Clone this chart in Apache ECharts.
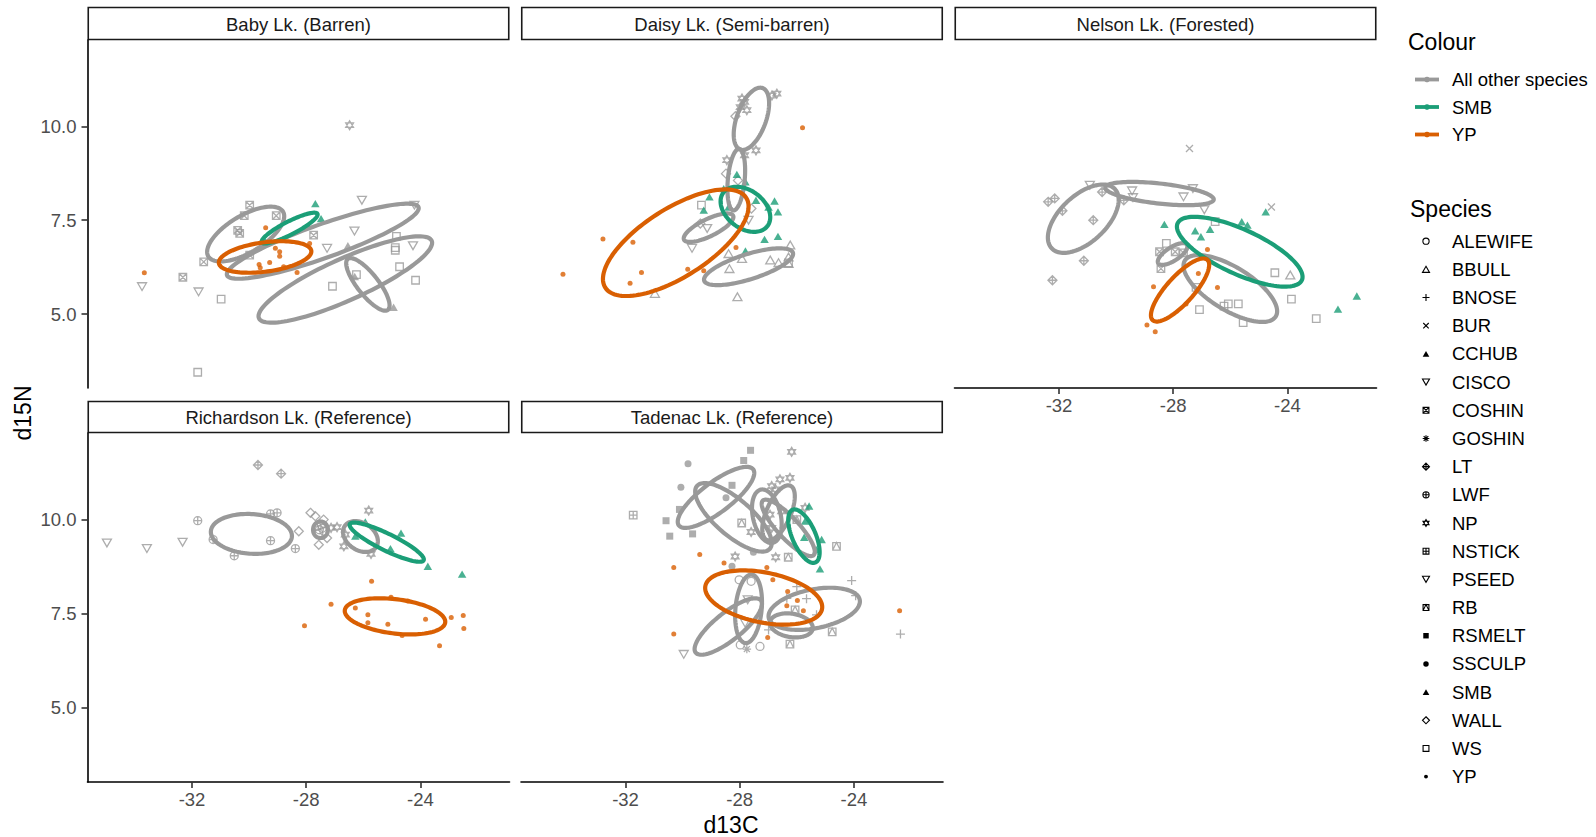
<!DOCTYPE html>
<html>
<head>
<meta charset="utf-8">
<script src="https://cdn.jsdelivr.net/npm/echarts@6/dist/echarts.min.js"></script>
<style>
  html, body { margin: 0; padding: 0; background: #fff; }
  #chart { width: 1596px; height: 837px; }
</style>
</head>
<body>
<div id="chart"></div>
<script>
// ---- data ---------------------------------------------------------------
const lakes = ['Baby Lk. (Barren)', 'Daisy Lk. (Semi-barren)', 'Nelson Lk. (Forested)',
               'Richardson Lk. (Reference)', 'Tadenac Lk. (Reference)'];
const colourGroups = ['All other species', 'SMB', 'YP'];
const speciesList = ['ALEWIFE', 'BBULL', 'BNOSE', 'BUR', 'CCHUB', 'CISCO', 'COSHIN', 'GOSHIN',
                     'LT', 'LWF', 'NP', 'NSTICK', 'PSEED', 'RB', 'RSMELT', 'SSCULP', 'SMB',
                     'WALL', 'WS', 'YP'];
const xTicks = [-32, -28, -24];
const yTicks = [5, 7.5, 10];

// fish: [d13C, d15N, species]
const babyPts = [
  [-29.98, 7.90, 'COSHIN'], [-30.17, 7.62, 'COSHIN'], [-29.05, 7.62, 'COSHIN'], [-30.40, 7.23, 'COSHIN'],
  [-30.33, 7.15, 'COSHIN'], [-27.74, 7.10, 'COSHIN'], [-31.59, 6.39, 'COSHIN'], [-32.32, 5.98, 'COSHIN'],
  [-29.98, 6.57, 'COSHIN'],
  [-24.84, 7.07, 'WS'], [-24.88, 6.70, 'WS'], [-24.88, 6.77, 'WS'], [-24.73, 6.26, 'WS'], [-26.24, 6.05, 'WS'],
  [-27.08, 5.74, 'WS'], [-24.17, 5.90, 'WS'], [-30.98, 5.40, 'WS'], [-31.80, 3.45, 'WS'],
  [-26.05, 8.03, 'CISCO'], [-24.21, 7.90, 'CISCO'], [-26.31, 7.21, 'CISCO'], [-27.27, 6.75, 'CISCO'],
  [-24.26, 6.82, 'CISCO'], [-33.75, 5.73, 'CISCO'], [-31.77, 5.59, 'CISCO'],
  [-26.54, 6.82, 'CCHUB'], [-24.94, 5.18, 'CCHUB'], [-26.30, 6.00, 'CCHUB'],
  [-26.48, 10.03, 'NP'],
  [-27.68, 7.94, 'SMB'], [-27.48, 7.54, 'SMB'], [-29.43, 6.92, 'SMB'],
  [-29.42, 7.30, 'YP'], [-33.67, 6.10, 'YP'], [-27.88, 6.88, 'YP'], [-29.08, 6.75, 'YP'], [-28.93, 6.66, 'YP'],
  [-28.93, 6.54, 'YP'], [-29.65, 6.32, 'YP'], [-29.28, 6.37, 'YP'], [-29.61, 6.23, 'YP'], [-28.32, 6.11, 'YP'],
  [-28.79, 6.26, 'YP']
];
const daisyPts = [
  [-27.92, 10.74, 'NP'], [-27.83, 10.65, 'NP'], [-27.75, 10.43, 'NP'], [-26.87, 10.82, 'NP'], [-26.70, 10.87, 'NP'],
  [-27.43, 9.36, 'NP'], [-28.45, 9.10, 'NP'], [-27.83, 9.23, 'NP'], [-27.98, 10.51, 'NP'],
  [-28.15, 10.27, 'WALL'], [-28.48, 8.74, 'WALL'], [-29.38, 7.41, 'WALL'], [-27.59, 7.81, 'WALL'], [-28.06, 8.56, 'WALL'],
  [-28.10, 8.72, 'SMB'], [-27.80, 8.52, 'SMB'], [-29.06, 8.12, 'SMB'], [-28.56, 8.34, 'SMB'], [-27.43, 8.03, 'SMB'],
  [-26.78, 8.01, 'SMB'], [-26.66, 7.72, 'SMB'], [-29.26, 7.77, 'SMB'], [-27.13, 6.99, 'SMB'], [-26.66, 7.07, 'SMB'],
  [-27.80, 6.68, 'SMB'], [-28.39, 7.85, 'SMB'], [-26.99, 7.85, 'SMB'],
  [-26.23, 6.84, 'BBULL'], [-28.39, 6.61, 'BBULL'], [-27.92, 6.48, 'BBULL'], [-26.93, 6.44, 'BBULL'],
  [-26.64, 6.37, 'BBULL'], [-26.29, 6.52, 'BBULL'], [-28.36, 6.21, 'BBULL'], [-30.97, 5.55, 'BBULL'],
  [-28.08, 5.46, 'BBULL'], [-26.29, 6.35, 'BBULL'],
  [-29.67, 6.75, 'PSEED'], [-29.14, 7.28, 'PSEED'], [-27.69, 7.50, 'PSEED'],
  [-29.34, 7.90, 'WS'], [-26.29, 6.36, 'WS'],
  [-25.80, 9.96, 'YP'], [-32.79, 7.00, 'YP'], [-31.74, 6.91, 'YP'], [-34.19, 6.06, 'YP'], [-31.44, 6.11, 'YP'],
  [-31.84, 5.82, 'YP'], [-29.82, 6.19, 'YP'], [-29.26, 6.15, 'YP'], [-28.13, 6.77, 'YP']
];
const nelsonPts = [
  [-27.43, 9.41, 'BUR'], [-24.56, 7.85, 'BUR'],
  [-32.38, 7.99, 'LT'], [-32.15, 8.08, 'LT'], [-31.88, 7.75, 'LT'], [-30.80, 7.50, 'LT'], [-30.49, 8.25, 'LT'],
  [-29.73, 8.03, 'LT'], [-31.13, 6.42, 'LT'], [-32.23, 5.90, 'LT'],
  [-30.92, 8.43, 'CISCO'], [-29.44, 8.28, 'CISCO'], [-29.41, 8.10, 'CISCO'], [-27.31, 8.34, 'CISCO'],
  [-27.64, 8.12, 'CISCO'], [-26.91, 7.78, 'CISCO'],
  [-28.31, 7.39, 'SMB'], [-27.23, 7.22, 'SMB'], [-27.03, 7.06, 'SMB'], [-26.71, 7.26, 'SMB'], [-25.60, 7.46, 'SMB'],
  [-25.40, 7.37, 'SMB'], [-24.76, 7.72, 'SMB'], [-22.23, 5.13, 'SMB'], [-21.57, 5.48, 'SMB'],
  [-28.48, 6.66, 'COSHIN'], [-27.93, 6.66, 'COSHIN'], [-28.43, 6.21, 'COSHIN'], [-27.64, 6.63, 'COSHIN'],
  [-28.24, 6.88, 'WS'], [-26.53, 7.46, 'WS'], [-24.44, 6.10, 'WS'], [-23.86, 5.40, 'WS'], [-22.99, 4.88, 'WS'],
  [-27.08, 5.12, 'WS'], [-26.07, 5.27, 'WS'], [-25.72, 5.27, 'WS'], [-26.22, 5.21, 'WS'], [-25.55, 4.77, 'WS'],
  [-27.20, 5.71, 'WS'],
  [-23.90, 6.04, 'BBULL'],
  [-26.80, 6.72, 'YP'], [-28.69, 5.73, 'YP'], [-26.45, 5.71, 'YP'], [-27.55, 5.27, 'YP'], [-28.92, 4.71, 'YP'],
  [-28.63, 4.53, 'YP'], [-27.12, 6.08, 'YP']
];
const richardsonPts = [
  [-34.98, 9.38, 'PSEED'], [-33.58, 9.23, 'PSEED'], [-32.33, 9.40, 'PSEED'],
  [-29.69, 11.45, 'LT'], [-28.88, 11.22, 'LT'],
  [-31.80, 9.97, 'LWF'], [-30.52, 9.04, 'LWF'], [-29.25, 9.44, 'LWF'], [-28.38, 9.23, 'LWF'],
  [-29.25, 10.15, 'LWF'], [-29.02, 10.18, 'LWF'], [-31.26, 9.47, 'LWF'],
  [-27.85, 10.18, 'WALL'], [-27.68, 10.09, 'WALL'], [-28.26, 9.69, 'WALL'], [-27.56, 9.33, 'WALL'],
  [-27.39, 10.00, 'WALL'], [-27.27, 9.51, 'WALL'],
  [-27.62, 9.82, 'ALEWIFE'], [-27.54, 9.73, 'ALEWIFE'], [-27.44, 9.77, 'ALEWIFE'], [-27.38, 9.69, 'ALEWIFE'],
  [-27.56, 9.64, 'ALEWIFE'], [-27.47, 9.86, 'ALEWIFE'],
  [-25.81, 10.24, 'NP'], [-26.92, 9.80, 'NP'], [-27.13, 9.78, 'NP'], [-26.68, 9.29, 'NP'], [-25.73, 9.09, 'NP'],
  [-26.63, 9.60, 'NP'],
  [-25.93, 9.94, 'SMB'], [-24.68, 9.64, 'SMB'], [-23.74, 8.76, 'SMB'], [-22.54, 8.55, 'SMB'], [-26.28, 9.56, 'SMB'],
  [-25.05, 9.23, 'SMB'],
  [-25.71, 8.36, 'YP'], [-27.13, 7.75, 'YP'], [-26.28, 7.65, 'YP'], [-25.84, 7.47, 'YP'], [-25.84, 7.26, 'YP'],
  [-25.14, 7.22, 'YP'], [-25.03, 7.94, 'YP'], [-24.44, 7.84, 'YP'], [-23.82, 7.35, 'YP'], [-24.64, 6.92, 'YP'],
  [-22.92, 7.40, 'YP'], [-22.50, 7.45, 'YP'], [-22.48, 7.11, 'YP'], [-23.33, 6.65, 'YP'], [-28.06, 7.18, 'YP']
];
const tadenacPts = [
  [-27.62, 11.84, 'RSMELT'], [-27.86, 11.57, 'RSMELT'], [-28.27, 10.91, 'RSMELT'], [-30.11, 10.27, 'RSMELT'],
  [-30.58, 9.97, 'RSMELT'], [-30.45, 9.56, 'RSMELT'], [-29.65, 9.62, 'RSMELT'],
  [-29.81, 11.48, 'SSCULP'], [-30.06, 10.86, 'SSCULP'], [-28.48, 10.58, 'SSCULP'], [-27.52, 9.13, 'SSCULP'],
  [-28.27, 8.76, 'SSCULP'],
  [-31.73, 10.12, 'NSTICK'],
  [-26.18, 11.80, 'NP'], [-26.59, 11.07, 'NP'], [-26.24, 11.11, 'NP'], [-26.88, 10.89, 'NP'], [-26.74, 10.80, 'NP'],
  [-27.60, 9.67, 'NP'], [-28.16, 9.02, 'NP'], [-26.74, 9.00, 'NP'], [-26.94, 10.13, 'NP'], [-26.53, 10.22, 'NP'],
  [-25.71, 10.31, 'NP'], [-26.88, 9.78, 'NP'],
  [-27.93, 9.91, 'RB'], [-26.30, 9.00, 'RB'], [-26.00, 10.00, 'RB'], [-24.61, 9.29, 'RB'], [-24.76, 7.02, 'RB'],
  [-26.24, 6.69, 'RB'], [-26.06, 7.60, 'RB'],
  [-25.57, 10.36, 'SMB'], [-25.74, 9.53, 'SMB'], [-25.13, 9.47, 'SMB'], [-25.19, 8.69, 'SMB'], [-25.31, 9.20, 'SMB'],
  [-25.71, 9.96, 'SMB'],
  [-24.08, 8.38, 'BNOSE'], [-23.94, 7.98, 'BNOSE'], [-25.66, 7.90, 'BNOSE'], [-26.00, 8.22, 'BNOSE'],
  [-26.35, 7.91, 'BNOSE'], [-25.31, 7.47, 'BNOSE'], [-22.37, 6.96, 'BNOSE'], [-26.99, 7.07, 'BNOSE'],
  [-28.02, 8.40, 'ALEWIFE'], [-27.60, 8.36, 'ALEWIFE'], [-27.29, 6.63, 'ALEWIFE'], [-27.98, 6.67, 'ALEWIFE'],
  [-27.75, 6.56, 'GOSHIN'],
  [-29.96, 6.42, 'CISCO'], [-27.72, 7.87, 'CISCO'], [-27.81, 7.25, 'CISCO'],
  [-30.31, 8.73, 'YP'], [-29.40, 9.07, 'YP'], [-28.55, 8.85, 'YP'], [-27.05, 8.73, 'YP'], [-26.84, 8.40, 'YP'],
  [-26.32, 8.09, 'YP'], [-25.98, 7.85, 'YP'], [-26.35, 7.71, 'YP'], [-25.77, 7.58, 'YP'], [-22.40, 7.58, 'YP'],
  [-30.31, 6.96, 'YP'], [-27.02, 6.87, 'YP']
];

// standard ellipses: [colour group, mean d13C, mean d15N, spread d13C, spread d15N, correlation]
const babyEll = [
  ['All other species', -30.12, 7.13, 1.35, 0.73, 0.65],
  ['All other species', -27.42, 6.94, 3.36, 1.00, 0.88],
  ['All other species', -26.63, 5.92, 3.04, 1.15, 0.85],
  ['All other species', -25.84, 5.79, 0.76, 0.70, -0.80],
  ['SMB', -28.58, 7.29, 0.98, 0.41, 0.88],
  ['YP', -29.44, 6.52, 1.62, 0.42, 0.35]
];
const daisyEll = [
  ['All other species', -27.59, 10.20, 0.62, 0.83, 0.50],
  ['All other species', -28.12, 8.58, 0.31, 0.82, 0.30],
  ['All other species', -29.09, 7.30, 0.87, 0.38, 0.75],
  ['All other species', -27.69, 6.26, 1.56, 0.49, 0.70],
  ['SMB', -27.80, 7.79, 0.87, 0.60, -0.35],
  ['YP', -30.24, 6.90, 2.55, 1.42, 0.68]
];
const nelsonEll = [
  ['All other species', -31.15, 7.54, 1.24, 0.91, 0.55],
  ['All other species', -28.48, 8.21, 1.90, 0.31, -0.50],
  ['All other species', -28.02, 6.60, 0.52, 0.29, 0.70],
  ['All other species', -26.00, 5.68, 1.64, 0.89, -0.68],
  ['SMB', -25.67, 6.66, 2.20, 0.93, -0.72],
  ['YP', -27.76, 5.64, 1.02, 0.84, 0.80]
];
const richardsonEll = [
  ['All other species', -29.92, 9.62, 1.42, 0.53, -0.10],
  ['All other species', -26.10, 9.55, 0.61, 0.41, -0.30],
  ['All other species', -27.50, 9.73, 0.26, 0.22, 0.00],
  ['SMB', -25.18, 9.40, 1.30, 0.52, -0.88],
  ['YP', -24.89, 7.43, 1.76, 0.48, -0.30]
];
const tadenacEll = [
  ['All other species', -28.83, 10.59, 1.34, 0.81, 0.80],
  ['All other species', -28.22, 10.06, 1.34, 0.91, -0.75],
  ['All other species', -27.05, 10.09, 0.52, 0.71, -0.30],
  ['All other species', -26.64, 10.18, 0.57, 0.73, 0.60],
  ['All other species', -26.30, 9.78, 0.93, 0.75, -0.85],
  ['All other species', -25.39, 7.63, 1.60, 0.56, 0.35],
  ['All other species', -26.19, 7.19, 0.75, 0.32, -0.20],
  ['All other species', -27.69, 7.63, 0.47, 0.91, 0.20],
  ['All other species', -28.40, 7.16, 1.18, 0.75, 0.80],
  ['SMB', -25.75, 9.56, 0.55, 0.71, -0.60],
  ['YP', -27.16, 7.93, 2.05, 0.72, -0.35]
];

const lakePoints = [babyPts, daisyPts, nelsonPts, richardsonPts, tadenacPts];
const lakeEllipses = [babyEll, daisyEll, nelsonEll, richardsonEll, tadenacEll];

// ---- styling ------------------------------------------------------------
const FONT = '"Liberation Sans", Arial, Helvetica, sans-serif';
const groupColour = { 'All other species': '#999999', 'SMB': '#1B9E77', 'YP': '#D95F02' };
const groupOf = sp => (sp === 'SMB' || sp === 'YP') ? sp : 'All other species';

const CIRCLE = 'M0 5A5 5 0 1 1 10 5A5 5 0 1 1 0 5Z';
const TRI_UP = 'M5 0L10 8.66L0 8.66Z';
const TRI_DOWN = 'M0 0L10 0L5 8.66Z';
const SQUARE = 'M0 0L10 0L10 10L0 10Z';
const DIAMOND = 'M5 0L10 5L5 10L0 5Z';
const PLUS = 'M5 0L5 10M0 5L10 5';
const CROSS = 'M0 0L10 10M10 0L0 10';
const shapes = {
  ALEWIFE: { path: CIRCLE, size: 8, filled: false },
  BBULL:   { path: TRI_UP, size: 9, filled: false },
  BNOSE:   { path: PLUS, size: 9, filled: false },
  BUR:     { path: CROSS, size: 7, filled: false },
  CCHUB:   { path: TRI_UP, size: 8.5, filled: true },
  CISCO:   { path: TRI_DOWN, size: 9, filled: false },
  COSHIN:  { path: SQUARE + CROSS, size: 7.5, filled: false },
  GOSHIN:  { path: PLUS + 'M1.5 1.5L8.5 8.5M8.5 1.5L1.5 8.5', size: 8.5, filled: false },
  LT:      { path: DIAMOND + PLUS, size: 9, filled: false },
  LWF:     { path: CIRCLE + PLUS, size: 8, filled: false },
  NP:      { path: 'M5 0L9.33 7.5L0.67 7.5Z M5 10L0.67 2.5L9.33 2.5Z', size: 9, filled: false },
  NSTICK:  { path: SQUARE + PLUS, size: 7.5, filled: false },
  PSEED:   { path: TRI_DOWN, size: 9, filled: false },
  RB:      { path: SQUARE + 'M0 10L5 0L10 10', size: 7.5, filled: false },
  RSMELT:  { path: SQUARE, size: 7, filled: true },
  SSCULP:  { path: CIRCLE, size: 7, filled: true },
  SMB:     { path: TRI_UP, size: 8.5, filled: true },
  WALL:    { path: DIAMOND, size: 9, filled: false },
  WS:      { path: SQUARE, size: 7.5, filled: false },
  YP:      { path: CIRCLE, size: 5, filled: true }
};

const X_MIN = -35.66, X_MAX = -20.88, Y_MIN = 3.03, Y_MAX = 12.3;
const panels = [
  { left: 87.5,  top: 40,  width: 422, height: 348, stripTop: 7.5,   stripH: 32, showX: false, showY: true },
  { left: 521,   top: 40,  width: 422, height: 348, stripTop: 7.5,   stripH: 32, showX: false, showY: false },
  { left: 954.5, top: 40,  width: 422, height: 348, stripTop: 7.5,   stripH: 32, showX: true,  showY: false },
  { left: 87.5,  top: 433, width: 422, height: 349, stripTop: 401.5, stripH: 31, showX: true,  showY: true },
  { left: 521,   top: 433, width: 422, height: 349, stripTop: 401.5, stripH: 31, showX: true,  showY: false }
];

// ---- axes ---------------------------------------------------------------
const grid = panels.map(p => ({ left: p.left, top: p.top, width: p.width, height: p.height,
  containLabel: false, outerBoundsMode: 'none' }));
const xAxis = panels.map((p, i) => ({
  gridIndex: i, type: 'value', min: X_MIN, max: X_MAX,
  axisLine: { show: p.showX, onZero: false, lineStyle: { color: '#000', width: 1.6 } },
  axisTick: { show: p.showX, length: 6, customValues: xTicks, lineStyle: { color: '#333', width: 1.6 } },
  axisLabel: { show: p.showX, customValues: xTicks, color: '#4D4D4D', fontSize: 18.5, fontFamily: FONT, margin: 8 },
  splitLine: { show: false }
}));
const yAxis = panels.map((p, i) => ({
  gridIndex: i, type: 'value', min: Y_MIN, max: Y_MAX,
  axisLine: { show: p.showY, onZero: false, lineStyle: { color: '#000', width: 1.6 } },
  axisTick: { show: p.showY, length: 6, customValues: yTicks, lineStyle: { color: '#333', width: 1.6 } },
  axisLabel: { show: p.showY, customValues: yTicks, color: '#4D4D4D', fontSize: 18.5, fontFamily: FONT,
    margin: 11, formatter: v => Number(v).toFixed(1) },
  splitLine: { show: false }
}));

// ---- series -------------------------------------------------------------
const series = [];
const drawOrder = speciesList.filter(s => groupOf(s) === 'All other species').concat(['SMB', 'YP']);
lakePoints.forEach((pts, li) => {
  drawOrder.forEach(sp => {
    const data = pts.filter(p => p[2] === sp).map(p => [p[0], p[1]]);
    if (!data.length) return;
    const st = shapes[sp];
    const col = groupColour[groupOf(sp)];
    series.push({
      type: 'scatter', name: sp, xAxisIndex: li, yAxisIndex: li, data,
      symbol: 'path://' + st.path, symbolSize: st.size, symbolKeepAspect: true,
      itemStyle: st.filled ? { color: col, borderWidth: 0 }
                           : { color: 'none', borderColor: col, borderWidth: 1.3 },
      z: 2, silent: true, animation: false
    });
  });
});

lakeEllipses.forEach((ells, li) => {
  const sorted = ells.slice().sort((a, b) => colourGroups.indexOf(a[0]) - colourGroups.indexOf(b[0]));
  series.push({
    type: 'custom', xAxisIndex: li, yAxisIndex: li,
    data: sorted.map(e => e.slice(1)),
    dimensions: ['cx', 'cy', 'sx', 'sy', 'rho'],
    encode: { x: 0, y: 1 },
    clip: false, silent: true, animation: false, z: 3,
    renderItem: (params, api) => {
      const cx = api.value(0), cy = api.value(1), sx = api.value(2), sy = api.value(3), r = api.value(4);
      const k = Math.sqrt(1 - r * r);
      const pts = [];
      for (let i = 0; i < 120; i++) {
        const t = i / 120 * 2 * Math.PI;
        pts.push(api.coord([cx + sx * Math.cos(t), cy + sy * (r * Math.cos(t) + k * Math.sin(t))]));
      }
      return {
        type: 'polygon', shape: { points: pts },
        style: { fill: 'none', stroke: groupColour[sorted[params.dataIndex][0]], lineWidth: 4.2 }
      };
    }
  });
});

// species key glyphs, drawn in screen space beside the plots
const KEY_X = 1426, KEY_Y0 = 241.2, KEY_STEP = 28.18;
series.push({
  type: 'custom', coordinateSystem: 'none', silent: true, animation: false, z: 5,
  data: speciesList.map((sp, i) => [i]),
  renderItem: (params, api) => {
    const sp = speciesList[params.dataIndex];
    const st = shapes[sp];
    const s = st.size * 0.78;
    const y = KEY_Y0 + params.dataIndex * KEY_STEP;
    return {
      type: 'path',
      shape: { pathData: st.path, x: KEY_X - s / 2, y: y - s / 2, width: s, height: s, layout: 'center' },
      style: st.filled ? { fill: '#000', stroke: null } : { fill: 'none', stroke: '#000', lineWidth: 1.1 }
    };
  }
});

// ---- strips, titles and legend text -------------------------------------
const graphic = [];
panels.forEach((p, i) => {
  graphic.push({ type: 'rect', silent: true,
    shape: { x: p.left + 0.75, y: p.stripTop, width: p.width - 1.5, height: p.stripH },
    style: { fill: '#fff', stroke: '#1A1A1A', lineWidth: 1.6 } });
  graphic.push({ type: 'text', silent: true, x: p.left + p.width / 2, y: p.stripTop + p.stripH / 2 + 0.5,
    style: { text: lakes[i], font: '18.5px ' + FONT, fill: '#1A1A1A', align: 'center', verticalAlign: 'middle' } });
});
graphic.push({ type: 'text', silent: true, x: 731, y: 825,
  style: { text: 'd13C', font: '23px ' + FONT, fill: '#000', align: 'center', verticalAlign: 'middle' } });
graphic.push({ type: 'text', silent: true, x: 23, y: 413, rotation: Math.PI / 2,
  style: { text: 'd15N', font: '23px ' + FONT, fill: '#000', align: 'center', verticalAlign: 'middle' } });

graphic.push({ type: 'text', silent: true, x: 1408, y: 42,
  style: { text: 'Colour', font: '23px ' + FONT, fill: '#000', align: 'left', verticalAlign: 'middle' } });
colourGroups.forEach((g, i) => {
  const y = 79.5 + i * 27.5;
  graphic.push({ type: 'line', silent: true, shape: { x1: 1415, y1: y, x2: 1439, y2: y },
    style: { stroke: groupColour[g], lineWidth: 3.8 } });
  graphic.push({ type: 'circle', silent: true, shape: { cx: 1427, cy: y, r: 2.8 },
    style: { fill: groupColour[g] } });
  graphic.push({ type: 'text', silent: true, x: 1452, y: y,
    style: { text: g, font: '18.5px ' + FONT, fill: '#000', align: 'left', verticalAlign: 'middle' } });
});

graphic.push({ type: 'text', silent: true, x: 1410, y: 209,
  style: { text: 'Species', font: '23px ' + FONT, fill: '#000', align: 'left', verticalAlign: 'middle' } });
speciesList.forEach((sp, i) => {
  graphic.push({ type: 'text', silent: true, x: 1452, y: KEY_Y0 + i * KEY_STEP,
    style: { text: sp, font: '18.5px ' + FONT, fill: '#000', align: 'left', verticalAlign: 'middle' } });
});

const chart = echarts.init(document.getElementById('chart'), null, { renderer: 'svg' });
chart.setOption({
  backgroundColor: '#fff',
  animation: false,
  grid, xAxis, yAxis, series, graphic
});
</script>
</body>
</html>
